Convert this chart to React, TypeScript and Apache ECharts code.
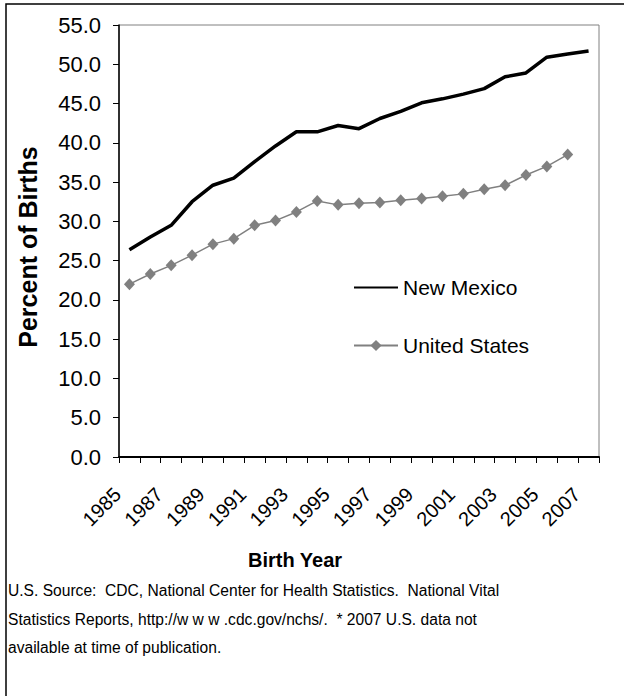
import React, { useEffect, useRef } from "react";
import * as echarts from "echarts";

const years = [
  "1985", "1986", "1987", "1988", "1989", "1990", "1991", "1992", "1993", "1994", "1995", "1996",
  "1997", "1998", "1999", "2000", "2001", "2002", "2003", "2004", "2005", "2006", "2007",
];
const newMexico = [
  26.4, 28.0, 29.5, 32.5, 34.6, 35.5, 37.6, 39.6, 41.4, 41.4, 42.2, 41.8,
  43.1, 44.0, 45.1, 45.6, 46.2, 46.9, 48.4, 48.9, 50.9, 51.3, 51.7,
];
const unitedStates = [
  22.0, 23.3, 24.4, 25.7, 27.1, 27.8, 29.5, 30.1, 31.2, 32.6, 32.1, 32.3,
  32.4, 32.7, 32.9, 33.2, 33.5, 34.1, 34.6, 35.9, 37.0, 38.5,
];
const footnoteLines = [
  "U.S. Source:  CDC, National Center for Health Statistics.  National Vital",
  "Statistics Reports, http://w w w .cdc.gov/nchs/.  * 2007 U.S. data not",
  "available at time of publication.",
];

const FONT = "'Liberation Sans', Arial, Helvetica, sans-serif";

export default function App() {
  const ref = useRef<HTMLDivElement>(null);
  useEffect(() => {
    if (!ref.current) return;
    const chart = echarts.init(ref.current, null, { renderer: "svg" });
    chart.setOption({
      animation: false,
      backgroundColor: "#ffffff",
      textStyle: { fontFamily: FONT },
      grid: {
        left: 119,
        right: 25,
        top: 25,
        bottom: 239,
        show: true,
        borderColor: "#808080",
        borderWidth: 1,
        backgroundColor: "transparent",
      },
      legend: {
        orient: "vertical",
        left: 348,
        top: 272,
        itemWidth: 44,
        itemHeight: 14,
        itemGap: 37,
        textStyle: { fontFamily: FONT, fontSize: 21, color: "#000" },
        data: [
          { name: "New Mexico", itemStyle: { opacity: 0 } },
          { name: "United States" },
        ],
      },
      xAxis: {
        type: "category",
        data: years,
        boundaryGap: true,
        axisLine: { lineStyle: { color: "#000", width: 2 } },
        axisTick: { show: true, interval: 0, length: 6, lineStyle: { color: "#000", width: 1 } },
        axisLabel: {
          interval: 1,
          rotate: 45,
          margin: 22,
          padding: [0, 17, 0, 0],
          fontSize: 20,
          color: "#000",
          fontFamily: FONT,
        },
        splitLine: { show: false },
      },
      yAxis: {
        type: "value",
        min: 0,
        max: 55,
        interval: 5,
        axisLine: { show: true, lineStyle: { color: "#000", width: 1.5 } },
        axisTick: { show: true, length: 6, lineStyle: { color: "#000", width: 1 } },
        axisLabel: {
          margin: 18,
          fontSize: 22,
          color: "#000",
          fontFamily: FONT,
          formatter: (v: number) => v.toFixed(1),
        },
        splitLine: { show: false },
      },
      series: [
        {
          name: "New Mexico",
          type: "line",
          data: newMexico,
          symbol: "none",
          lineStyle: { color: "#000", width: 3.5 },
          itemStyle: { color: "#000" },
        },
        {
          name: "United States",
          type: "line",
          data: unitedStates,
          symbol: "diamond",
          symbolSize: [11, 12],
          lineStyle: { color: "#808080", width: 1.5 },
          itemStyle: { color: "#808080" },
        },
      ],
      graphic: [
        {
          type: "rect",
          shape: { x: 6, y: 4, width: 700, height: 800 },
          style: { fill: "none", stroke: "#000", lineWidth: 1.5 },
          silent: true,
        },
        {
          type: "text",
          x: 28,
          y: 247,
          rotation: Math.PI / 2,
          style: {
            text: "Percent of Births",
            font: `bold 25px ${FONT}`,
            fill: "#000",
            textAlign: "center",
            textVerticalAlign: "middle",
          },
        },
        {
          type: "text",
          x: 295,
          y: 560,
          style: {
            text: "Birth Year",
            font: `bold 20px ${FONT}`,
            fill: "#000",
            textAlign: "center",
            textVerticalAlign: "middle",
          },
        },
        ...footnoteLines.map((t, i) => ({
          type: "text",
          x: 8,
          y: 590.5 + i * 28.5,
          style: {
            text: t,
            font: `15.6px ${FONT}`,
            fill: "#000",
            textAlign: "left",
            textVerticalAlign: "middle",
          },
        })),
      ],
    });
    return () => chart.dispose();
  }, []);
  return (
    <div
      ref={ref}
      style={{ position: "fixed", left: 0, top: 0, width: 624, height: 696 }}
    />
  );
}
